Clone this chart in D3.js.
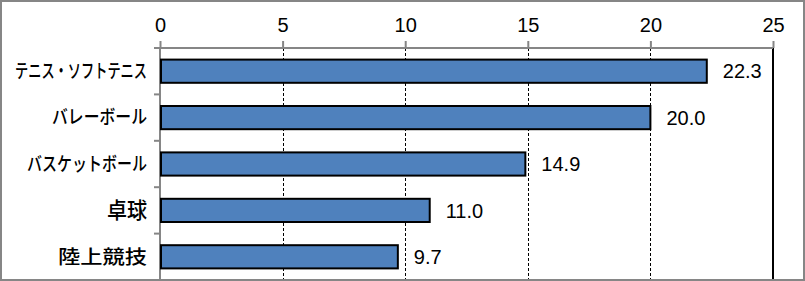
<!DOCTYPE html>
<html>
<head>
<meta charset="utf-8">
<script src="https://cdn.jsdelivr.net/npm/d3@7"></script>
<style>
  body { margin: 0; background: #fff; }
  svg { display: block; }
</style>
</head>
<body>
<svg id="chart"></svg>
<script>
    const width = 805;
    const height = 281;

    // data
    const categories = ["テニス・ソフトテニス", "バレーボール", "バスケットボール", "卓球", "陸上競技"];
    const values = [22.3, 20.0, 14.9, 11.0, 9.7];
    const tickValues = [0, 5, 10, 15, 20, 25];

    const margin = { top: 48, right: 32, bottom: 1, left: 160 };

    // the original font is a narrow proportional gothic, so squeeze the labels
    const labelWidth = { "テニス・ソフトテニス": 132, "バレーボール": 95, "バスケットボール": 120, "卓球": 40, "陸上競技": 89 };

    const svg = d3.select("#chart")
        .attr("width", width)
        .attr("height", height);

    // outer frame
    svg.append("rect")
        .attr("x", 1).attr("y", 1)
        .attr("width", width - 2).attr("height", height - 2)
        .attr("fill", "#fff")
        .attr("stroke", "#868686")
        .attr("stroke-width", 2);

    const x = d3.scaleLinear()
        .domain([0, 25])
        .range([margin.left, width - margin.right]);

    const y = d3.scaleBand()
        .domain(categories)
        .range([margin.top, height - margin.bottom])
        .paddingInner(0.5)
        .paddingOuter(0.25);

    // dashed gridlines
    svg.append("g")
        .selectAll("line")
        .data(tickValues.filter(d => d > 0 && d < 25))
        .join("line")
        .attr("x1", d => Math.round(x(d)) + 0.5)
        .attr("x2", d => Math.round(x(d)) + 0.5)
        .attr("y1", margin.top)
        .attr("y2", height - 2)
        .attr("stroke", "#000")
        .attr("stroke-width", 1)
        .attr("stroke-dasharray", "3,2");

    // right border of plot area
    svg.append("line")
        .attr("x1", x(25)).attr("x2", x(25))
        .attr("y1", margin.top).attr("y2", height - 2)
        .attr("stroke", "#000")
        .attr("stroke-width", 2);

    // top axis
    const xAxis = d3.axisTop(x)
        .tickValues(tickValues)
        .tickSize(7)
        .tickPadding(9)
        .tickSizeOuter(0);

    const gx = svg.append("g")
        .attr("transform", `translate(0,${margin.top})`)
        .call(xAxis);
    gx.select(".domain").attr("stroke", "#868686").attr("stroke-width", 2)
        .attr("d", `M${margin.left - 6},0H${x(25)}`);
    gx.selectAll(".tick line").attr("stroke", "#868686").attr("stroke-width", 2);
    gx.selectAll(".tick text")
        .attr("fill", "#000")
        .style("font-family", "'Liberation Sans', Arial, sans-serif")
        .style("font-size", "20px");

    // left axis line and band separators
    const bandStep = y.step();
    svg.append("line")
        .attr("x1", margin.left).attr("x2", margin.left)
        .attr("y1", margin.top).attr("y2", height - 2)
        .attr("stroke", "#868686")
        .attr("stroke-width", 2);

    svg.append("g")
        .selectAll("line")
        .data(categories.slice(1))
        .join("line")
        .attr("x1", margin.left - 6)
        .attr("x2", margin.left)
        .attr("y1", d => y(d) - bandStep * y.paddingInner() / 2)
        .attr("y2", d => y(d) - bandStep * y.paddingInner() / 2)
        .attr("stroke", "#868686")
        .attr("stroke-width", 2);

    // bars
    svg.append("g")
        .selectAll("rect")
        .data(values)
        .join("rect")
        .attr("x", x(0) + 1)
        .attr("y", (d, i) => y(categories[i]))
        .attr("width", d => x(d) - x(0) - 1)
        .attr("height", y.bandwidth())
        .attr("fill", "#4F81BD")
        .attr("stroke", "#000")
        .attr("stroke-width", 2);

    // value labels
    svg.append("g")
        .selectAll("text")
        .data(values)
        .join("text")
        .attr("x", d => x(d) + 16)
        .attr("y", (d, i) => y(categories[i]) + y.bandwidth() / 2)
        .attr("dy", "0.36em")
        .style("font-family", "'Liberation Sans', Arial, sans-serif")
        .style("font-size", "20px")
        .text(d => d.toFixed(1));

    // category labels
    svg.append("g")
        .selectAll("text")
        .data(categories)
        .join("text")
        .attr("x", margin.left - 13)
        .attr("y", d => y(d) + y.bandwidth() / 2)
        .attr("dy", "0.36em")
        .attr("text-anchor", "end")
        .attr("textLength", d => labelWidth[d])
        .attr("lengthAdjust", "spacingAndGlyphs")
        .style("font-family", "'Noto Sans CJK JP', sans-serif")
        .style("font-size", d => d.length > 2 ? "19px" : "22px")
        .style("font-weight", "500")
        .text(d => d);
</script>
</body>
</html>
